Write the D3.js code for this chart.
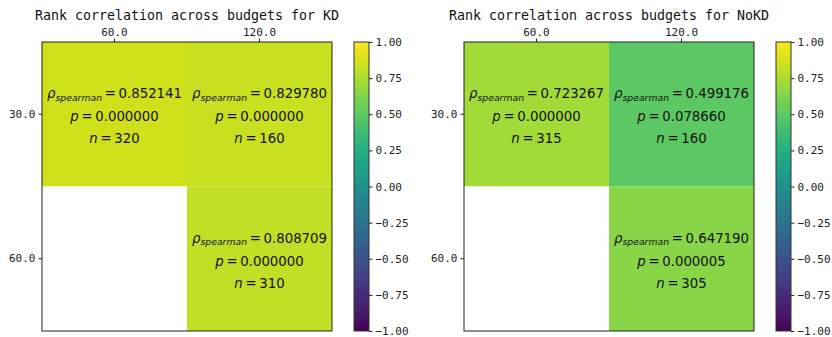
<!DOCTYPE html>
<html>
<head>
<meta charset="utf-8">
<script src="https://cdn.jsdelivr.net/npm/d3@7"></script>
<style>
  html, body { margin: 0; padding: 0; background: #fff; }
  svg { display: block; }
  .tick text { font-family: "DejaVu Sans Mono", monospace; font-size: 11px; fill: #222; }
  .tick line { stroke: #222; }
  .domain { display: none; }
</style>
</head>
<body>
<svg id="chart" width="832" height="337"></svg>
<script>
// Budgets on each axis
const colBudgets = [60.0, 120.0];
const rowBudgets = [30.0, 60.0];

// Spearman rho per (row, column); null = no comparison
const rhoKD   = [[0.852141, 0.829780], [null, 0.808709]];
const pKD     = [[0.000000, 0.000000], [null, 0.000000]];
const nKD     = [[320, 160], [null, 310]];

const rhoNoKD = [[0.723267, 0.499176], [null, 0.647190]];
const pNoKD   = [[0.000000, 0.078660], [null, 0.000005]];
const nNoKD   = [[315, 160], [null, 305]];

const cbTicks = [1.00, 0.75, 0.50, 0.25, 0.00, -0.25, -0.50, -0.75, -1.00];

const panels = [
  { title: "Rank correlation across budgets for KD",   rho: rhoKD,   p: pKD,   n: nKD,   left: 42,  cbLeft: 354 },
  { title: "Rank correlation across budgets for NoKD", rho: rhoNoKD, p: pNoKD, n: nNoKD, left: 464, cbLeft: 776 }
];

const svg = d3.select("#chart");
const plotTop = 42, plotW = 290, plotH = 289, cbW = 15;
const color = d3.scaleSequential(d3.interpolateViridis).domain([-1, 1]);
const fmt = d3.format(".6f");

// Shared viridis gradient for the colourbars
const grad = svg.append("defs").append("linearGradient")
  .attr("id", "viridis").attr("x1", 0).attr("y1", 1).attr("x2", 0).attr("y2", 0);
d3.range(0, 1.0001, 0.02).forEach(t => {
  grad.append("stop").attr("offset", t).attr("stop-color", d3.interpolateViridis(t));
});

panels.forEach(pn => {
  const g = svg.append("g");
  const x = d3.scaleBand().domain(colBudgets).range([pn.left, pn.left + plotW]);
  const y = d3.scaleBand().domain(rowBudgets).range([plotTop, plotTop + plotH]);

  // Heatmap cells
  const cells = [];
  rowBudgets.forEach((r, i) => colBudgets.forEach((c, j) => {
    cells.push({ r, c, rho: pn.rho[i][j], p: pn.p[i][j], n: pn.n[i][j] });
  }));
  g.selectAll("rect.cell").data(cells).join("rect")
    .attr("class", "cell")
    .attr("x", d => x(d.c)).attr("y", d => y(d.r))
    .attr("width", x.bandwidth()).attr("height", y.bandwidth())
    .attr("fill", d => d.rho == null ? "#fff" : color(d.rho));

  // Annotations
  const txt = g.selectAll("g.ann").data(cells.filter(d => d.rho != null)).join("g")
    .attr("class", "ann")
    .attr("transform", d => `translate(${x(d.c) + x.bandwidth() / 2},${y(d.r) + y.bandwidth() / 2})`)
    .style("font-family", "'DejaVu Sans', sans-serif")
    .style("font-size", "13.3px")
    .attr("fill", "#111")
    .attr("text-anchor", "middle");

  const l1 = txt.append("text").attr("y", -16);
  l1.append("tspan").attr("font-style", "italic").text("ρ");
  l1.append("tspan").attr("font-style", "italic").attr("font-size", "9.3px").attr("dy", 2.5).text("spearman");
  l1.append("tspan").attr("dy", -2.5).text(d => "\u2009=\u2009" + fmt(d.rho));

  const l2 = txt.append("text").attr("y", 7);
  l2.append("tspan").attr("font-style", "italic").text("p");
  l2.append("tspan").text(d => "\u2009=\u2009" + fmt(d.p));

  const l3 = txt.append("text").attr("y", 29);
  l3.append("tspan").attr("font-style", "italic").text("n");
  l3.append("tspan").text(d => "\u2009=\u2009" + d.n);

  // Frame
  g.append("rect").attr("x", pn.left).attr("y", plotTop).attr("width", plotW).attr("height", plotH)
    .attr("fill", "none").attr("stroke", "#222").attr("stroke-width", 1);

  // Axes
  g.append("g").attr("transform", `translate(0,${plotTop})`)
    .call(d3.axisTop(x).tickSize(3.5).tickPadding(3).tickFormat(d3.format(".1f")));
  g.append("g").attr("transform", `translate(${pn.left},0)`)
    .call(d3.axisLeft(y).tickSize(3.5).tickPadding(3).tickFormat(d3.format(".1f")));

  // Title
  g.append("text")
    .attr("x", pn.left + plotW / 2).attr("y", 20)
    .attr("text-anchor", "middle")
    .style("font-family", "'DejaVu Sans Mono', monospace")
    .style("font-size", "13.3px")
    .attr("fill", "#111")
    .text(pn.title);

  // Colourbar
  const cb = d3.scaleLinear().domain([-1, 1]).range([plotTop + plotH, plotTop]);
  g.append("rect").attr("x", pn.cbLeft).attr("y", plotTop).attr("width", cbW).attr("height", plotH)
    .attr("fill", "url(#viridis)").attr("stroke", "#333").attr("stroke-width", 1);
  g.append("g").attr("transform", `translate(${pn.cbLeft + cbW},0)`)
    .call(d3.axisRight(cb).tickValues(cbTicks).tickSize(3.5).tickPadding(3)
      .tickFormat(d => d3.format(".2f")(d).replace("-", "\u2212")));
});
</script>
</body>
</html>
